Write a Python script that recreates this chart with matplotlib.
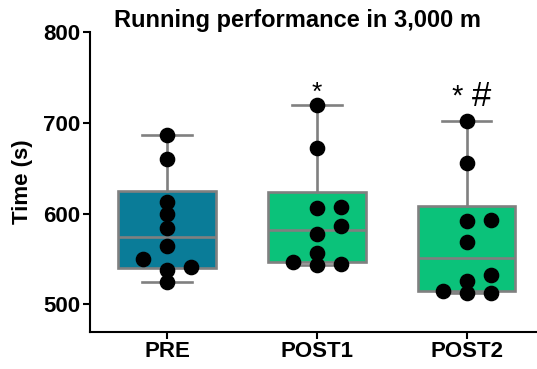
import matplotlib
matplotlib.use("Agg")
import matplotlib.pyplot as plt
import numpy as np

plt.rcParams['font.family'] = ['Liberation Sans', 'DejaVu Sans']

TITLE = "Running performance in 3,000 m"
GROUPS = ['PRE', 'POST1', 'POST2']
BOX_COLORS = ['#0A7C98', '#0BC27A', '#0BC27A']

# running times (s)
pre = [686.4, 659.6, 612.9, 599.0, 583.6, 564.4, 550.5, 541.2, 538.4, 524.7]
post1 = [719.5, 671.8, 607.4, 606.3, 586.5, 577.3, 557.1, 546.8, 545.0, 543.1]
post2 = [702.2, 655.2, 592.7, 592.0, 568.8, 532.9, 525.5, 515.0, 513.0, 512.5]
SIG_MARKS = ['', '*', '#']


def swarm_offsets(vals, d=12.5, step=0.16):
    # simple column swarm: low values first, nearest free column to centre
    vals = np.asarray(vals)
    placed = {}
    offs = np.zeros(len(vals))
    for i in np.argsort(vals, kind='stable'):
        for k in [0, 1, -1, 2, -2, 3, -3]:
            if all(abs(vals[i] - v) >= d for v in placed.get(k, [])):
                placed.setdefault(k, []).append(vals[i])
                offs[i] = k * step
                break
    return offs


def box_stats(vals, label):
    q1, med, q3 = np.percentile(vals, [25, 50, 75], method='weibull')
    return dict(med=med, q1=q1, q3=q3, whislo=min(vals), whishi=max(vals),
                fliers=[], label=label)


data = [pre, post1, post2]
fig = plt.figure(figsize=(5.37, 3.69), dpi=100)
ax = fig.add_axes([0.1676, 0.101, 0.8324, 0.813])

stats = [box_stats(v, g) for v, g in zip(data, GROUPS)]
grey = '#808080'
bp = ax.bxp(stats, positions=range(3), widths=0.65, capwidths=0.33,
            patch_artist=True, showfliers=False,
            boxprops=dict(edgecolor=grey, linewidth=1.9),
            medianprops=dict(color=grey, linewidth=1.9),
            whiskerprops=dict(color=grey, linewidth=1.9),
            capprops=dict(color=grey, linewidth=1.9))
for patch, c in zip(bp['boxes'], BOX_COLORS):
    patch.set_facecolor(c)

for i, vals in enumerate(data):
    ax.scatter(i + swarm_offsets(vals), vals, s=105, color='black', zorder=5)

# significance marks
ax.text(1, 725, '*', ha='center', va='baseline', fontsize=19)
ax.text(1.94, 720, '*', ha='center', va='baseline', fontsize=21)
ax.text(2.10, 718, SIG_MARKS[2], ha='center', va='baseline', fontsize=25)

ax.set_xlim(-0.515, 2.47)
ax.set_ylim(470, 800)
ax.set_yticks([500, 600, 700, 800])
ax.set_xticks(range(3))
ax.set_xticklabels(GROUPS, fontsize=16, fontweight='bold')
for lab in ax.get_yticklabels():
    lab.set_fontsize(16)
    lab.set_fontweight('bold')
ax.set_ylabel('Time (s)', fontsize=16, fontweight='bold', labelpad=7)
ax.spines['top'].set_visible(False)
ax.spines['right'].set_visible(False)
ax.spines['left'].set_linewidth(1.5)
ax.spines['bottom'].set_linewidth(1.5)
ax.spines['left'].set_bounds(470, 800)
ax.tick_params(width=1.5, length=5, pad=2)

fig.text(297 / 537, 1 - 21 / 369, TITLE, ha='center', va='center',
         fontsize=17, fontweight='bold')

fig.savefig('out.png', dpi=100)
